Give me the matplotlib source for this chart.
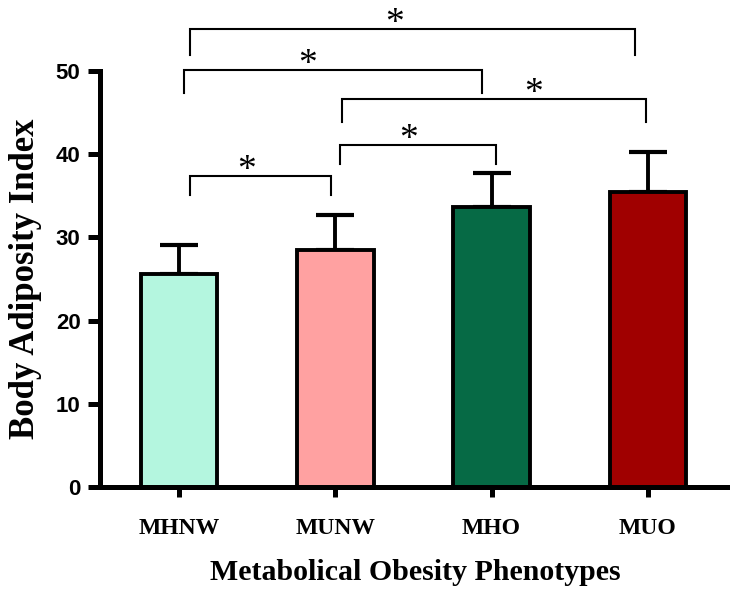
import numpy as np
import matplotlib.pyplot as plt

# データ
groups = ['MHNW', 'MUNW', 'MHO', 'MUO']
means = [25.6, 28.5, 33.6, 35.5]
sds = [3.5, 4.2, 4.2, 4.8]
colors = ['#B4F6DF', '#FFA1A1', '#066A45', '#A00000']

# 有意差のブラケット (左端, 右端, 高さ, 脚の下端, *のx位置)
br_left = [0.07, 0.03, 1.04, 1.03, 0.07]
br_right = [2.92, 1.94, 2.99, 2.03, 0.97]
br_top = [55.1, 50.1, 46.6, 41.1, 37.4]
br_bottom = [51.9, 47.4, 43.9, 38.8, 35.1]
star_x = [1.38, 0.82, 2.27, 1.47, 0.435]

serif = 'Liberation Serif'
sans = 'Liberation Sans'

fig = plt.figure(figsize=(7.3, 5.94), dpi=100)
ax = fig.add_axes([0.137, 0.180, 0.863, 0.7005])

x = np.arange(len(groups))
ax.errorbar(x, means, yerr=[np.zeros(len(sds)), sds], fmt='none',
            ecolor='black', elinewidth=2.8, capsize=14, capthick=3, zorder=1)
ax.bar(x, means, width=0.49, color=colors, edgecolor='black', linewidth=2.8, zorder=2)

# ブラケットと*
for l, r, t, b, sx in zip(br_left, br_right, br_top, br_bottom, star_x):
    ax.plot([l, l, r, r], [b, t, t, b], color='black', lw=1.5, clip_on=False,
            solid_joinstyle='miter')
    ax.text(sx, t - 0.5, '*', ha='center', va='baseline', fontsize=27,
            fontfamily=serif, clip_on=False)

ax.set_xlim(-0.505, 3.525)
ax.set_ylim(0, 50)
ax.set_yticks([0, 10, 20, 30, 40, 50])
ax.set_xticks(x)
ax.set_xticklabels(groups, fontfamily=serif, fontweight='bold', fontsize=17)
for lab in ax.get_yticklabels():
    lab.set_fontfamily(sans)
    lab.set_fontweight('bold')
    lab.set_fontsize(16)

for s in ['top', 'right']:
    ax.spines[s].set_visible(False)
for s in ['left', 'bottom']:
    ax.spines[s].set_linewidth(3.6)
ax.tick_params(axis='y', length=9, width=3.6, pad=5)
ax.tick_params(axis='x', length=7, width=3.6, pad=15)

ax.set_ylabel('Body Adiposity Index', fontfamily=serif, fontweight='bold',
              fontsize=25, labelpad=10)
ax.set_xlabel('Metabolical Obesity Phenotypes', fontfamily=serif,
              fontweight='bold', fontsize=21.5, labelpad=15)

fig.savefig('out.png', dpi=100)
